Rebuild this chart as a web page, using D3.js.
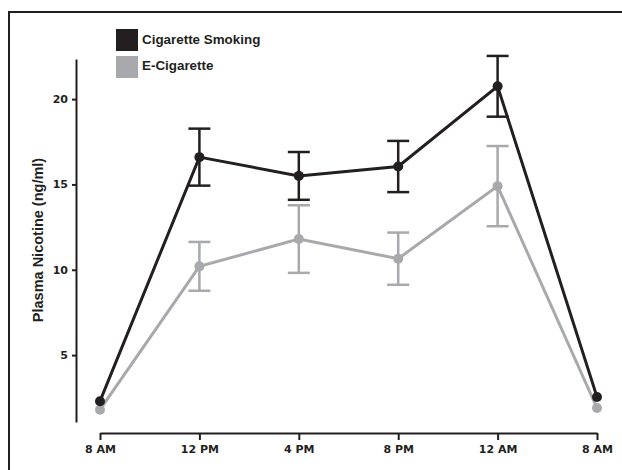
<html>
<head>
<title>Plasma Nicotine</title>
<script type="text/javascript" src="https://cdn.jsdelivr.net/npm/d3@7/dist/d3.min.js"></script>
<style type="text/css">
body { margin: 0; background: white; }
.axis path, .axis line { stroke: #231f20; stroke-width: 2px; }
.axis text { font-family: "DejaVu Sans", Verdana, sans-serif; font-weight: bold; font-size: 11px; fill: #231f20; }
</style>
</head>
<body>
<script>
// time points (8 AM appears twice, so index them)
var timeLabels = ["8 AM", "12 PM", "4 PM", "8 PM", "12 AM", "8 AM"];
var yTicks = [5, 10, 15, 20];

var cigMean = [2.3, 16.6, 15.5, 16.05, 20.75, 2.55];
var cigErr  = [null, 1.67, 1.4, 1.5, 1.78, null];
var ecigMean = [1.8, 10.2, 11.8, 10.65, 14.9, 1.9];
var ecigErr  = [null, 1.43, 1.98, 1.53, 2.35, null];

var seriesNames = ["Cigarette Smoking", "E-Cigarette"];
var colors = ["#231f20", "#a7a9ac"];

var width = 622, height = 470;

var svg = d3.select("body").append("svg")
  .attr("width", width).attr("height", height)
  .style("background", "white");

// frame (left + top edges)
svg.append("path")
  .attr("d", "M9," + height + "V12H" + width)
  .attr("fill", "none").attr("stroke", "#231f20").attr("stroke-width", 2);

var x = d3.scalePoint().domain(d3.range(timeLabels.length)).range([100, 597]);
var y = d3.scaleLinear().domain([1.08, 22.35]).range([422, 59]);

svg.append("g").attr("class", "axis")
  .attr("transform", "translate(0,433)")
  .call(d3.axisBottom(x).tickSize(7).tickSizeOuter(0).tickPadding(5)
    .tickFormat(function(i){ return timeLabels[i]; }));

svg.append("g").attr("class", "axis")
  .attr("transform", "translate(76,0)")
  .call(d3.axisLeft(y).tickValues(yTicks).tickSize(4).tickSizeOuter(0).tickPadding(4));

svg.append("text")
  .attr("transform", "translate(42.5,240) rotate(-90)")
  .attr("text-anchor", "middle")
  .style("font-family", "'Liberation Sans', Arial, sans-serif")
  .style("font-weight", "bold").style("font-size", "14.5px")
  .attr("fill", "#231f20")
  .text("Plasma Nicotine (ng/ml)");

var series = [
  {name: seriesNames[1], mean: ecigMean, err: ecigErr, color: colors[1]},
  {name: seriesNames[0], mean: cigMean, err: cigErr, color: colors[0]}
];

var line = d3.line().x(function(d, i){ return x(i); }).y(function(d){ return y(d); });

series.forEach(function(s) {
  var g = svg.append("g");
  var pts = s.mean.map(function(m, i){ return {i: i, m: m, e: s.err[i]}; });
  var eb = pts.filter(function(d){ return d.e !== null; });

  g.selectAll("line.v").data(eb).enter().append("line")
    .attr("x1", function(d){ return x(d.i); }).attr("x2", function(d){ return x(d.i); })
    .attr("y1", function(d){ return y(d.m - d.e); }).attr("y2", function(d){ return y(d.m + d.e); })
    .attr("stroke", s.color).attr("stroke-width", 2.5);
  [-1, 1].forEach(function(sgn) {
    g.selectAll("line.c" + sgn).data(eb).enter().append("line")
      .attr("x1", function(d){ return x(d.i) - 11; }).attr("x2", function(d){ return x(d.i) + 11; })
      .attr("y1", function(d){ return y(d.m + sgn * d.e); }).attr("y2", function(d){ return y(d.m + sgn * d.e); })
      .attr("stroke", s.color).attr("stroke-width", 2.5);
  });

  g.append("path").datum(s.mean).attr("d", line)
    .attr("fill", "none").attr("stroke", s.color).attr("stroke-width", 3);

  g.selectAll("circle").data(pts).enter().append("circle")
    .attr("cx", function(d){ return x(d.i); }).attr("cy", function(d){ return y(d.m); })
    .attr("r", 5).attr("fill", s.color);
});

// legend
var leg = svg.append("g");
seriesNames.forEach(function(n, i) {
  leg.append("rect").attr("x", 116).attr("y", 29 + i * 27).attr("width", 22).attr("height", 22)
    .attr("fill", colors[i]);
  leg.append("text").attr("x", 142).attr("y", 44.3 + i * 26)
    .style("font-family", "'Liberation Sans', Arial, sans-serif")
    .style("font-weight", "bold").style("font-size", "13.4px")
    .attr("fill", "#231f20").text(n);
});
</script>
</body>
</html>
